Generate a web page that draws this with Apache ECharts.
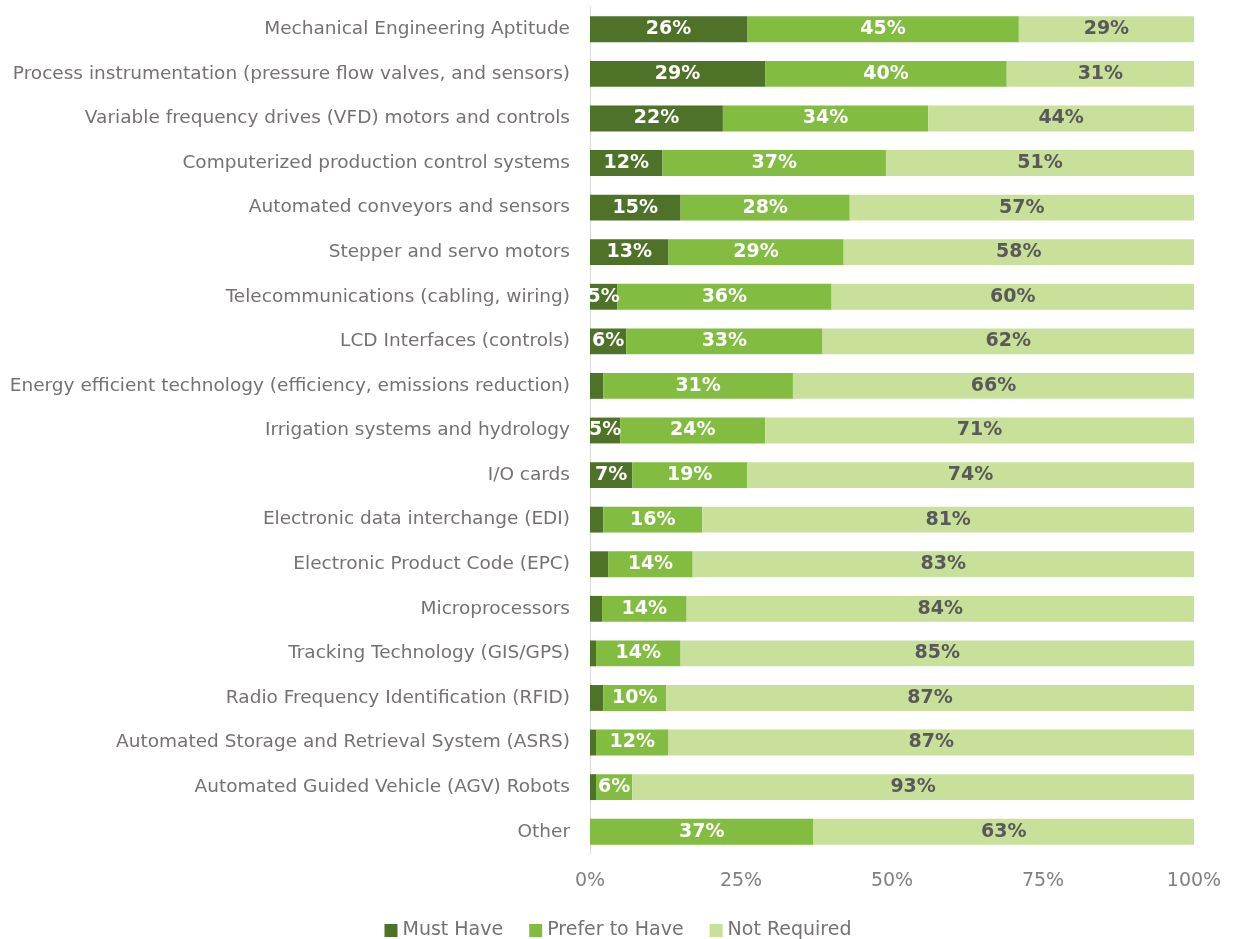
<!DOCTYPE html>
<html>
<head>
<meta charset="utf-8">
<script src="https://cdn.jsdelivr.net/npm/echarts@6/dist/echarts.min.js"></script>
<style>
  html, body { margin: 0; padding: 0; background: #fff; }
  #chart { width: 1236px; height: 939px; }
</style>
</head>
<body>
<div id="chart"></div>
<script>
// categories top to bottom
const categories = [
  'Mechanical Engineering Aptitude',
  'Process instrumentation (pressure flow valves, and sensors)',
  'Variable frequency drives (VFD) motors and controls',
  'Computerized production control systems',
  'Automated conveyors and sensors',
  'Stepper and servo motors',
  'Telecommunications (cabling, wiring)',
  'LCD Interfaces (controls)',
  'Energy efficient technology (efficiency, emissions reduction)',
  'Irrigation systems and hydrology',
  'I/O cards',
  'Electronic data interchange (EDI)',
  'Electronic Product Code (EPC)',
  'Microprocessors',
  'Tracking Technology (GIS/GPS)',
  'Radio Frequency Identification (RFID)',
  'Automated Storage and Retrieval System (ASRS)',
  'Automated Guided Vehicle (AGV) Robots',
  'Other'
]
const mustHave = [26, 29, 22, 12, 15, 13, 4.5, 6, 2.2, 5, 7, 2.2, 3, 2, 1, 2.2, 1, 1, 0]
const preferToHave = [45, 40, 34, 37, 28, 29, 35.5, 32.5, 31.4, 24, 19, 16.4, 14, 14, 14, 10.4, 12, 6, 37]
const notRequired = [29, 31, 44, 51, 57, 58, 60, 61.5, 66.4, 71, 74, 81.4, 83, 84, 85, 87.4, 87, 93, 63]
const xTicks = [0, 25, 50, 75, 100]

const font = '"Century Gothic", "DejaVu Sans", sans-serif'

function labelFmt(p) {
  return p.value >= 4.5 ? Math.round(p.value) + '%' : ''
}

const chart = echarts.init(document.getElementById('chart'))
chart.setOption({
  animation: false,
  textStyle: { fontFamily: font },
  grid: { left: 590, right: 42, top: 7, bottom: 85, containLabel: false },
  legend: {
    top: 916,
    left: 'center',
    itemWidth: 13,
    itemHeight: 13,
    itemGap: 26,
    itemTextGap: 6,
    icon: 'rect',
    textStyle: { fontSize: 19, color: '#767171', fontFamily: font },
    data: ['Must Have', 'Prefer to Have', 'Not Required']
  },
  xAxis: {
    type: 'value',
    min: 0,
    max: 100,
    interval: 25,
    axisLine: { show: false },
    axisTick: { show: false },
    splitLine: { show: false },
    axisLabel: {
      fontSize: 19,
      color: '#808080',
      margin: 18,
      formatter: v => (xTicks.includes(v) ? v + '%' : '')
    }
  },
  yAxis: {
    type: 'category',
    inverse: true,
    data: categories,
    axisLine: { show: true, lineStyle: { color: '#d9d9d9', width: 1 } },
    axisTick: { show: false },
    axisLabel: { fontSize: 18.5, color: '#767171', margin: 20 }
  },
  series: [
    {
      name: 'Must Have',
      type: 'bar',
      stack: 'total',
      barCategoryGap: '42%',
      data: mustHave,
      itemStyle: { color: '#4d7228' },
      label: {
        show: true, position: 'inside', formatter: labelFmt,
        color: '#fff', fontWeight: 'bold', fontSize: 19, fontFamily: font
      }
    },
    {
      name: 'Prefer to Have',
      type: 'bar',
      stack: 'total',
      data: preferToHave,
      itemStyle: { color: '#82bc41' },
      label: {
        show: true, position: 'inside', formatter: labelFmt,
        color: '#fff', fontWeight: 'bold', fontSize: 19, fontFamily: font
      }
    },
    {
      name: 'Not Required',
      type: 'bar',
      stack: 'total',
      data: notRequired,
      itemStyle: { color: '#c9e09b' },
      label: {
        show: true, position: 'inside', formatter: labelFmt,
        color: '#595959', fontWeight: 'bold', fontSize: 19, fontFamily: font
      }
    }
  ]
})
</script>
</body>
</html>
